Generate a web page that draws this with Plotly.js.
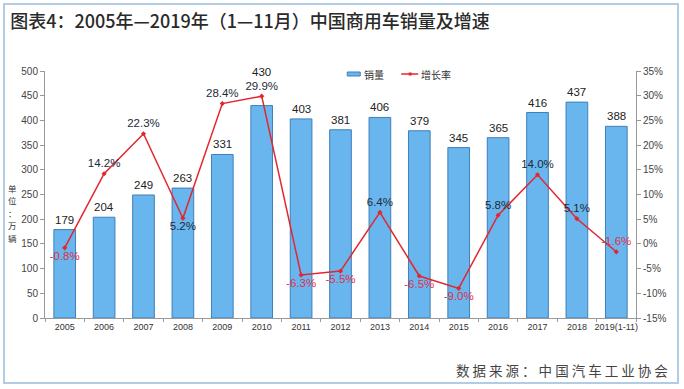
<!DOCTYPE html>
<html><head><meta charset="utf-8">
<script src="https://cdn.plot.ly/plotly-3.0.1.min.js"></script>
<style>
body{margin:0;background:#fff}
#wrap{position:relative;width:684px;height:389px}
#chart{width:684px;height:389px}
#frame{position:absolute;left:3px;top:3px;width:672px;height:377px;border:2px solid #b3cce3;pointer-events:none}
</style>
</head><body>
<div id="wrap"><div id="chart"></div><div id="frame"></div></div>
<script>
const years=['2005','2006','2007','2008','2009','2010','2011','2012','2013','2014','2015','2016','2017','2018','2019(1-11)'];
const sales=[179,204,249,263,331,430,403,381,406,379,345,365,416,437,388];
const growth=[-0.8,14.2,22.3,5.2,28.4,29.9,-6.3,-5.5,6.4,-6.5,-9.0,5.8,14.0,5.1,-1.6];
const leftTicks=[0,50,100,150,200,250,300,350,400,450,500];
const rightTicks=[-15,-10,-5,0,5,10,15,20,25,30,35];
const seriesNames=['销量','增长率'];
const unitChars=['单','位','：','万','辆'];

const growthPos=['bottom center','top center','top center','bottom center','top center','top center','bottom center','bottom center','top center','bottom center','bottom center','top center','top center','top center','top center'];
const RED='#e0304a', DARK='#1e2a38';
const BAR='#69b6ee', BAREDGE='#3f7fba', LINE='#e3262d';
const cjk='"Noto Sans CJK SC","Noto Sans",sans-serif';
const latin='"Liberation Sans",Arial,sans-serif';

// plot area geometry (pixels) for converting legend positions
const L=44.5, R=48, T=71, B=71, W=684, H=389;
const pw=W-L-R, ph=H-T-B;
const px=v=>(v-L)/pw, py=v=>(H-B-v)/ph;

const barTrace={
  type:'bar', name:seriesNames[0], x:years, y:sales,
  marker:{color:BAR, line:{color:BAREDGE, width:1}},
  hoverinfo:'skip'
};
const lineTrace={
  type:'scatter', mode:'lines+markers+text', name:seriesNames[1], x:years, y:growth, yaxis:'y2',
  line:{color:LINE, width:1.5},
  marker:{color:LINE, size:4, symbol:'diamond'},
  text:growth.map(v=>v.toFixed(1)+'%'),
  textposition:growthPos,
  textfont:{family:latin, size:11.5, color:growth.map(v=>v<0?RED:DARK)},
  cliponaxis:false
};

const barLabels=years.map((yr,i)=>({
  x:i, y:sales[i], xref:'x', yref:'y', text:String(sales[i]), showarrow:false,
  yanchor:'bottom', yshift:(i===5?26:2),
  font:{family:latin, size:11.5, color:'#222'}
}));

const unitLabels=unitChars.map((c,i)=>({
  xref:'paper', yref:'paper', x:px(12), y:py(188+i*12.4), xanchor:'center', yanchor:'middle',
  text:c, showarrow:false, borderpad:0, font:{family:cjk, size:8.5, color:'#333'}
}));

const legendText=[
  {xref:'paper', yref:'paper', x:px(362), y:py(74), xanchor:'left', yanchor:'middle',
   text:seriesNames[0], showarrow:false, font:{family:cjk, size:10, color:'#333'}},
  {xref:'paper', yref:'paper', x:px(419), y:py(74), xanchor:'left', yanchor:'middle',
   text:seriesNames[1], showarrow:false, font:{family:cjk, size:10, color:'#333'}}
];
const legendShapes=[
  {type:'rect', xref:'paper', yref:'paper', x0:px(347), x1:px(360), y0:py(76), y1:py(72),
   fillcolor:BAR, line:{color:BAREDGE, width:1}},
  {type:'line', xref:'paper', yref:'paper', x0:px(401), x1:px(418), y0:py(74), y1:py(74),
   line:{color:LINE, width:1.5}},
  {type:'rect', xref:'paper', yref:'paper', x0:px(408.5), x1:px(411.5), y0:py(75.5), y1:py(72.5),
   fillcolor:LINE, line:{color:LINE, width:0}}
];

const layout={
  width:W, height:H,
  margin:{l:L, r:R, t:T, b:B},
  paper_bgcolor:'#fff', plot_bgcolor:'#fff',
  bargap:0.45,
  showlegend:false,
  xaxis:{type:'category', range:[-0.5, years.length-0.5], autorange:false,
    showline:true, linecolor:'#999', linewidth:1,
    ticks:'outside', tickson:'boundaries', ticklen:3, tickcolor:'#999', tickangle:0,
    tickfont:{family:latin, size:9, color:'#333'},
    showgrid:false, zeroline:false},
  yaxis:{range:[0,500], autorange:false, tickvals:leftTicks, showline:true, linecolor:'#999', linewidth:1,
    ticks:'outside', ticklen:4, tickcolor:'#999', showgrid:false, zeroline:false,
    tickfont:{family:latin, size:10, color:'#444'}},
  yaxis2:{range:[-15,35], autorange:false, tickvals:rightTicks, ticktext:rightTicks.map(v=>v+'%'),
    overlaying:'y', side:'right', showline:true, linecolor:'#999', linewidth:1,
    ticks:'outside', ticklen:4, tickcolor:'#999', showgrid:false, zeroline:false,
    tickfont:{family:latin, size:10, color:'#444'}},
  shapes:legendShapes,
  annotations:barLabels.concat(unitLabels, legendText, [
    {xref:'paper', yref:'paper', x:px(670), y:py(370), xanchor:'right', yanchor:'middle',
     text:'数 据 来 源 ： 中 国 汽 车 工 业 协 会', showarrow:false,
     font:{family:cjk, size:13.5, color:'#444'}}
  ]),
  title:{text:'图表4：2005年—2019年（1—11月）中国商用车销量及增速', x:0.015, xanchor:'left', xref:'container',
    y:0.943, yanchor:'middle', yref:'container',
    font:{family:cjk, size:18, color:'#2a2a2a', weight:500}}
};
Plotly.newPlot('chart',[barTrace,lineTrace],layout,{displayModeBar:false,staticPlot:true});
</script>
</body></html>
